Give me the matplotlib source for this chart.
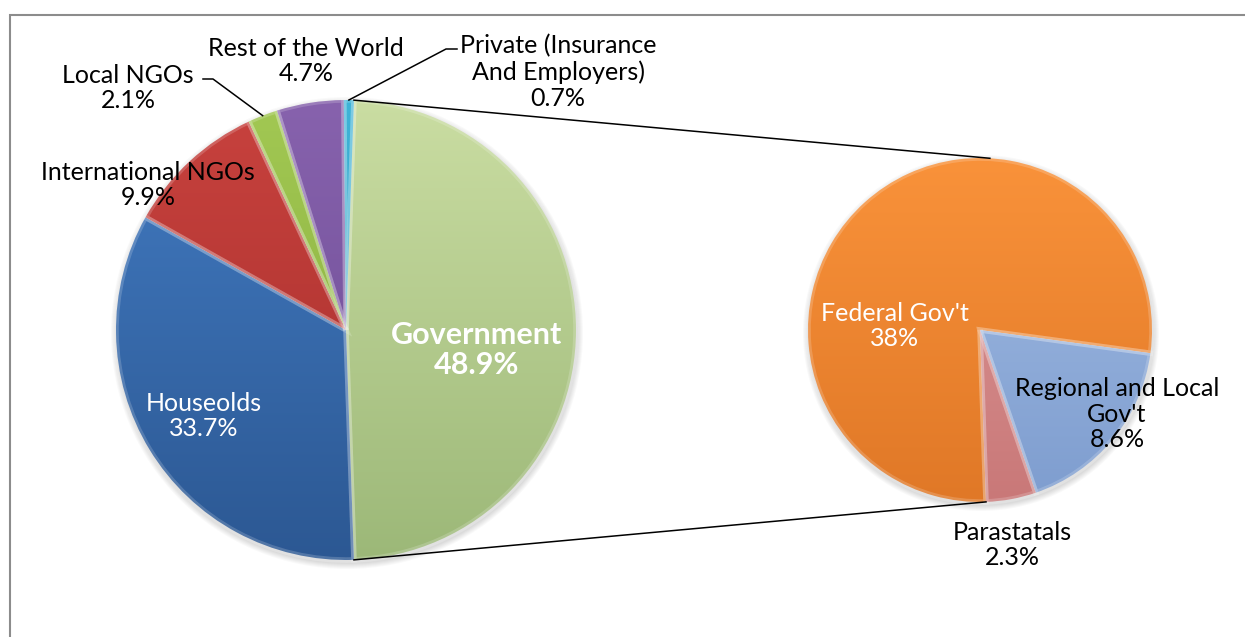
import numpy as np
import matplotlib.pyplot as plt
from matplotlib.colors import LinearSegmentedColormap
from matplotlib.patches import Circle, Rectangle

plt.rcParams['font.family'] = ['Lato', 'DejaVu Sans']

# health expenditure by source (%)
sources = ['Government', 'Houseolds', 'International NGOs', 'Local NGOs',
           'Rest of the World', 'Private (Insurance\nAnd Employers)']
shares = [48.9, 33.7, 9.9, 2.1, 4.7, 0.7]

# breakdown of the government share
gov_parts = ["Federal Gov't", "Regional and Local\nGov't", 'Parastatals']
gov_shares = [38.0, 8.6, 2.3]

main_shades = [('#cadda2', '#9cb878'), ('#427bc2', '#2c5893'),
               ('#c8423e', '#a52e2b'), ('#a2c853', '#84aa3a'),
               ('#8762ad', '#6a4a92'), ('#3fb4d8', '#2790b0')]
sub_shades = [('#f9923a', '#e07827'), ('#a3bde4', '#7e9dcf'),
              ('#de9a9a', '#c97878')]

W, H = 1245, 637
fig = plt.figure(figsize=(W / 100, H / 100), dpi=100)
ax = fig.add_axes([0, 0, 1, 1])

main_c, main_r = (346, H - 330), 230
sub_c, sub_r = (980, H - 330), 172


def shade(wedges, shades, center, r):
    for w, (light, dark) in zip(wedges, shades):
        cmap = LinearSegmentedColormap.from_list('s', [light, dark])
        grad = np.linspace(0, 1, 256).reshape(-1, 1)
        im = ax.imshow(grad, cmap=cmap, origin='upper', aspect='auto',
                       extent=(center[0] - r, center[0] + r,
                               center[1] - r, center[1] + r), zorder=2)
        im.set_clip_path(w)
        # soft bevel along the slice edges
        w.set_zorder(3)
        w.set_facecolor('none')
        w.set_edgecolor((1, 1, 1, 0.18))
        w.set_linewidth(4)
        w.set_clip_path(w)


def drop_shadow(center, r):
    for k in range(6):
        ax.add_patch(Circle((center[0] + 1, center[1] - 3), r + 1 + k,
                            color='black', alpha=0.025, lw=0, zorder=1))


drop_shadow(main_c, main_r)
drop_shadow(sub_c, sub_r)

# main pie: government slice centred on the right-hand side
gov_half = shares[0] * 3.6 / 2
main_w, _ = ax.pie(shares, center=main_c, radius=main_r, startangle=gov_half,
                   counterclock=False, frame=True, wedgeprops=dict(lw=0))
shade(main_w, main_shades, main_c, main_r)

sub_w, _ = ax.pie(gov_shares, center=sub_c, radius=sub_r, startangle=-88,
                  counterclock=False, frame=True, wedgeprops=dict(lw=0))
shade(sub_w, sub_shades, sub_c, sub_r)


def rim(center, r, ang):
    a = np.radians(ang)
    return center[0] + r * np.cos(a), center[1] + r * np.sin(a)


# connector lines between the two pies
for a_main, a_sub in [(gov_half, 86.7), (-gov_half, -88)]:
    p, q = rim(main_c, main_r, a_main), rim(sub_c, sub_r, a_sub)
    ax.plot([p[0], q[0]], [p[1], q[1]], color='black', lw=1.1, zorder=4)

# label positions (pixel centres) and styling
main_pos = [(477, 350), (204, 416), (148, 185), (128, 88), (306, 61), (558, 72)]
main_col = ['white', 'white', 'black', 'black', 'black', 'black']
for name, v, (x, y), c in zip(sources, shares, main_pos, main_col):
    bold = name == 'Government'
    ax.text(x, H - y, f'{name}\n{v:g}%', ha='center', va='center',
            color=c, fontsize=22 if bold else 18,
            fontweight='bold' if bold else 'normal',
            linespacing=1.05 if bold else 1.15, zorder=5)

sub_pos = [(895, 326), (1117, 414), (1012, 545)]
sub_col = ['white', 'black', 'black']
for name, v, (x, y), c in zip(gov_parts, gov_shares, sub_pos, sub_col):
    ax.text(x, H - y, f'{name}\n{v:g}%', ha='center', va='center',
            color=c, fontsize=18, linespacing=1.15, zorder=5)

# leader lines for the thin slices
leaders = {3: [(203, 79), (213, 79)], 5: [(457, 49), (446, 49)]}
for i, pts in leaders.items():
    w = main_w[i]
    end = rim(main_c, main_r, (w.theta1 + w.theta2) / 2)
    xs = [p[0] for p in pts] + [end[0]]
    ys = [H - p[1] for p in pts] + [end[1]]
    ax.plot(xs, ys, color='black', lw=1.1, zorder=4)

ax.add_patch(Rectangle((10, -10), W, H - 15 + 10, fill=False,
                       edgecolor='#8c8c8c', lw=1.5, zorder=0))

ax.set_xlim(0, W)
ax.set_ylim(0, H)
ax.set_aspect('equal')
ax.axis('off')
fig.savefig('out.png', dpi=100)
